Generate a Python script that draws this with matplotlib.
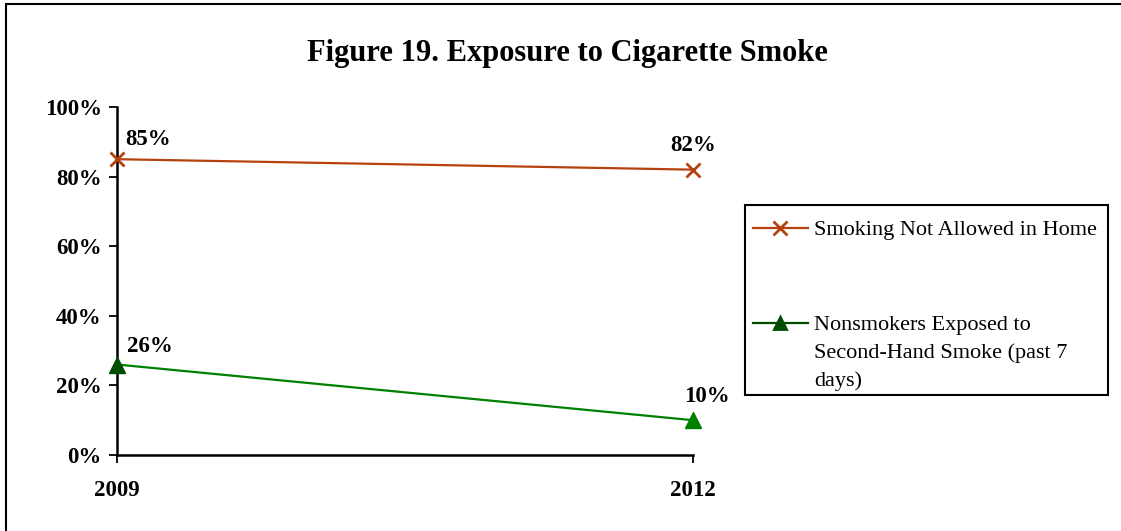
import matplotlib.pyplot as plt
from matplotlib.patches import Rectangle
from matplotlib.lines import Line2D

years = ["2009", "2012"]
not_allowed = [85, 82]
exposed = [26, 10]
y_ticks = [0, 20, 40, 60, 80, 100]

W, H = 1121, 531
brown = "#B5410F"
green = "#008000"
dark_green = "#004D00"

plt.rcParams["font.family"] = ["Liberation Serif", "DejaVu Serif"]

fig = plt.figure(figsize=(W / 100, H / 100), dpi=100)
ax = fig.add_axes([117 / W, 1 - 455 / H, (693 - 117) / W, (455 - 107) / H])

x = list(range(len(years)))
ax.plot(x, not_allowed, color=brown, lw=1.6, marker="x", ms=10, mew=2,
        clip_on=False, zorder=6)
ax.plot(x, exposed, color=green, lw=1.6, clip_on=False)
ax.plot(x[0], exposed[0], ls="none", marker="^", ms=11, color=dark_green,
        clip_on=False, zorder=6)
ax.plot(x[1], exposed[1], ls="none", marker="^", ms=11, color=green,
        clip_on=False, zorder=6)

ax.set_xlim(0, 1)
ax.set_ylim(0, 100)
ax.set_xticks(x)
ax.set_xticklabels(years, fontsize=16.5, fontweight="bold")
ax.set_yticks(y_ticks)
ax.set_yticklabels([f"{v}%" for v in y_ticks], fontsize=16.5, fontweight="bold")
ax.tick_params(direction="out", length=6, width=1.3, color="black")
ax.tick_params(axis="y", pad=5)
ax.tick_params(axis="x", pad=12)
for s in ["top", "right"]:
    ax.spines[s].set_visible(False)
for s in ["left", "bottom"]:
    ax.spines[s].set_linewidth(1.8)
ax.spines["bottom"].set_zorder(5)

offsets = [((31, 20), (0, 24)), ((33, 18), (14, 24))]
for series, offs in zip([not_allowed, exposed], offsets):
    for xi, v, off in zip(x, series, offs):
        ax.annotate(f"{v}%", (xi, v), xytext=off, textcoords="offset pixels",
                    ha="center", va="center", fontsize=16.5, fontweight="bold",
                    annotation_clip=False)

fig.text(567 / W, 1 - 53 / H, "Figure 19. Exposure to Cigarette Smoke",
         ha="center", va="center", fontsize=22, fontweight="bold")

# legend drawn by hand so the multi-line entry keeps its marker on the first line
def fx(px):
    return px / W


def fy(py):
    return 1 - py / H


fig.add_artist(Rectangle((fx(745), fy(395)), (1108 - 745) / W, (395 - 205) / H,
                         transform=fig.transFigure, fill=False,
                         edgecolor="black", lw=1.5))
legend_items = [
    (brown, brown, "x", 228, "Smoking Not Allowed in Home"),
    (dark_green, dark_green, "^", 323,
     "Nonsmokers Exposed to\nSecond-Hand Smoke (past 7\ndays)"),
]
for lcolor, mcolor, marker, py, label in legend_items:
    fig.add_artist(Line2D([fx(753), fx(808)], [fy(py), fy(py)], color=lcolor,
                          lw=1.6, transform=fig.transFigure))
    fig.add_artist(Line2D([fx(780)], [fy(py)], color=mcolor, marker=marker,
                          ms=9 if marker == "^" else 10, mew=2,
                          transform=fig.transFigure))
    fig.text(fx(814), fy(py - 7), label, ha="left", va="top", fontsize=16,
             linespacing=1.55)

fig.patches.append(Rectangle((6 / W, -0.1), 1.2, 1 - 4 / H + 0.1,
                             transform=fig.transFigure, fill=False,
                             edgecolor="black", lw=1.5))

fig.savefig("out.png", dpi=100)
